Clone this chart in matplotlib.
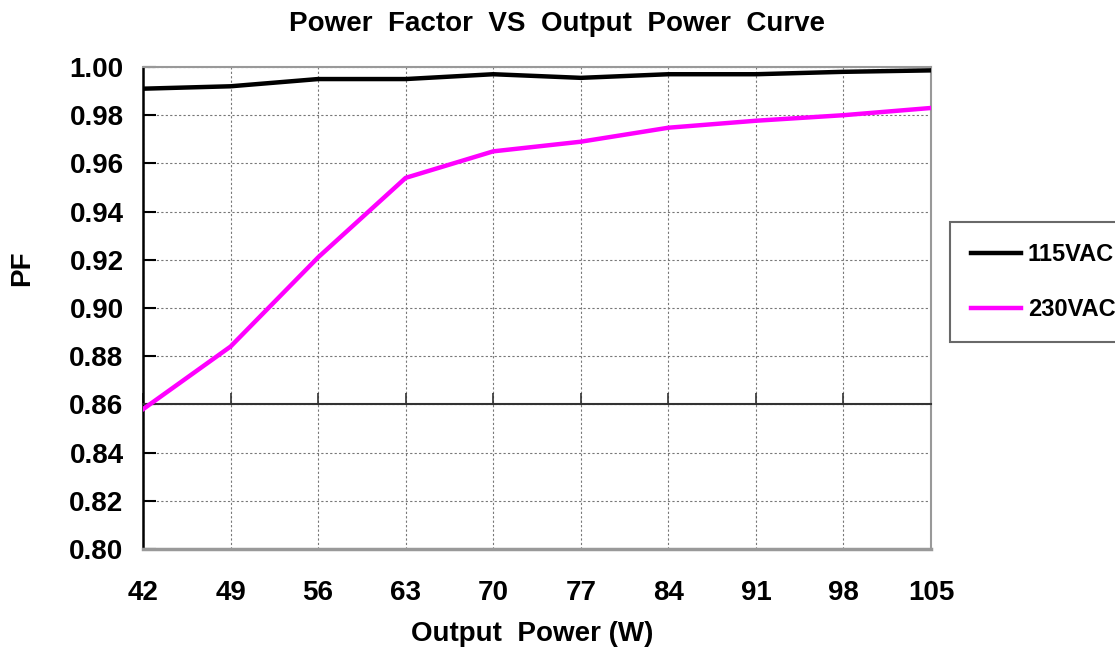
import matplotlib
matplotlib.use("Agg")
import matplotlib.pyplot as plt
from matplotlib import font_manager

# ---- data ----
output_power = [42, 49, 56, 63, 70, 77, 84, 91, 98, 105]
pf_115vac = [0.991, 0.992, 0.995, 0.995, 0.997, 0.9955, 0.997, 0.997, 0.998, 0.9986]
pf_230vac = [0.858, 0.884, 0.921, 0.954, 0.965, 0.969, 0.9748, 0.9777, 0.980, 0.983]
y_ticks = [0.80, 0.82, 0.84, 0.86, 0.88, 0.90, 0.92, 0.94, 0.96, 0.98, 1.00]
y_tick_labels = ["0.80", "0.82", "0.84", "0.86", "0.88", "0.90", "0.92", "0.94", "0.96", "0.98", "1.00"]
x_tick_labels = [str(v) for v in output_power]
axis_cross_y = 0.86
series_names = ["115VAC", "230VAC"]

names = {f.name for f in font_manager.fontManager.ttflist}
fam = "Liberation Sans Narrow" if "Liberation Sans Narrow" in names else "Liberation Sans"
plt.rcParams['font.family'] = [fam, "DejaVu Sans"]
plt.rcParams['font.weight'] = 'bold'

fig = plt.figure(figsize=(11.15, 6.53), dpi=100)
ax = fig.add_axes([143/1115, 1-549/653, (931-143)/1115, (549-67)/653])

ax.plot(output_power, pf_115vac, color='black', lw=3.2, solid_joinstyle='round', label=series_names[0], zorder=4)
ax.plot(output_power, pf_230vac, color='#FF00FF', lw=3.2, solid_joinstyle='round', label=series_names[1], zorder=4)

ax.set_xlim(output_power[0], output_power[-1])
ax.set_ylim(y_ticks[0], y_ticks[-1])

ax.set_yticks(y_ticks)
ax.set_yticklabels(y_tick_labels, fontsize=20, fontweight='bold')
ax.set_xticks(output_power)
ax.tick_params(axis='x', direction='in', length=8, width=1.2, color='#333333', labelbottom=False)
ax.tick_params(axis='y', direction='in', length=9, width=1.5, color='black', pad=14)

ax.grid(True, color='#777777', linestyle=(0, (2, 2)), linewidth=0.8)

# spines
ax.spines['bottom'].set_position(('data', axis_cross_y))
ax.spines['bottom'].set_color('#333333')
ax.spines['bottom'].set_linewidth(1.5)
ax.spines['left'].set_color('black')
ax.spines['left'].set_linewidth(1.8)
for s in ['top', 'right']:
    ax.spines[s].set_color('#999999')
    ax.spines[s].set_linewidth(1.5)
ax.axhline(y_ticks[0], color='#999999', lw=2.5, zorder=3, clip_on=False)

sec = ax.secondary_xaxis(0)
sec.set_xticks(output_power)
sec.set_xticklabels(x_tick_labels, fontsize=20, fontweight='bold')
sec.tick_params(length=0, pad=22)
sec.spines['bottom'].set_visible(False)

ax.set_xlabel("Output  Power (W)", fontsize=20, fontweight='bold')
ax.xaxis.set_label_coords((532-143)/788, (549-634)/482)
ax.xaxis.label.set_va('center')
ax.set_ylabel("PF", fontsize=20, fontweight='bold')
ax.yaxis.set_label_coords((22-143)/788, (549-268)/482)
ax.yaxis.label.set_va('center')
ax.set_title("Power  Factor  VS  Output  Power  Curve", fontsize=20, fontweight='bold',
             x=(557-143)/788, pad=26)

leg = fig.legend(loc='upper left', bbox_to_anchor=(950/1115, 1-222/653), fontsize=17,
                 frameon=True, fancybox=False, shadow=False, handlelength=2.1,
                 handletextpad=0.3, labelspacing=1.35, borderpad=0.9, borderaxespad=0)
leg.get_frame().set_edgecolor('#444444')
leg.get_frame().set_linewidth(1.5)
for t in leg.get_texts():
    t.set_fontweight('bold')

fig.savefig("out.png", dpi=100)
